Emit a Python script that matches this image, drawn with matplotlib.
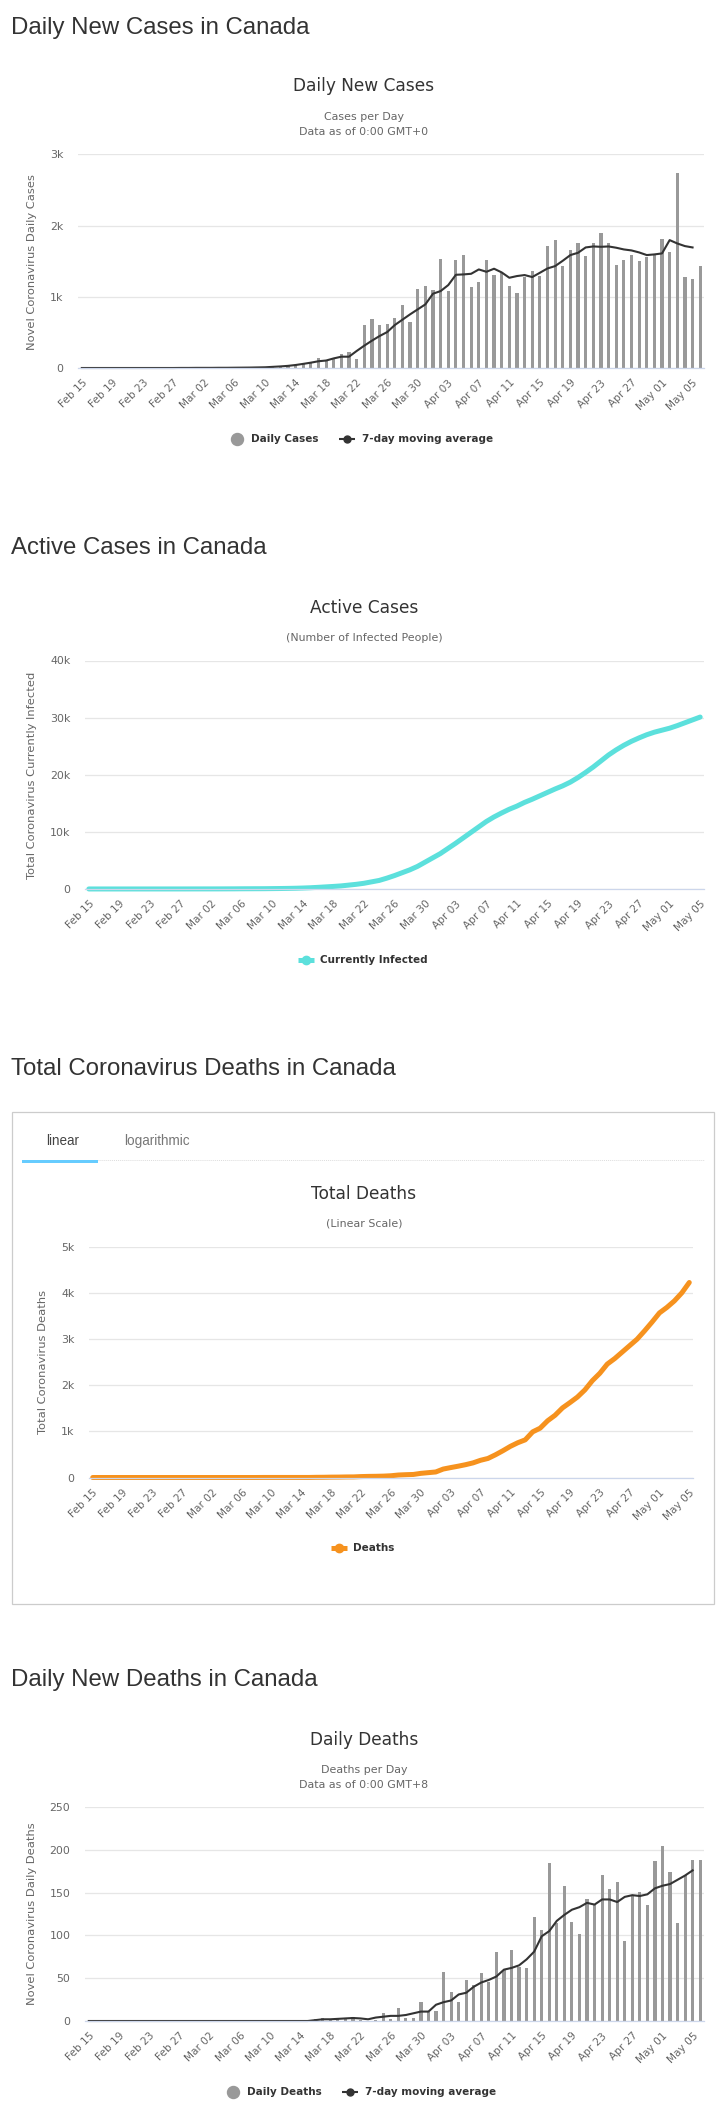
import matplotlib
matplotlib.use("Agg")
import matplotlib.pyplot as plt
from matplotlib.lines import Line2D
from matplotlib.patches import Rectangle

W, H = 719, 2114
PX = 0.72  # px -> pt at dpi 100

days_long = (["Feb %02d" % d for d in range(15, 30)]
             + ["Mar %02d" % d for d in range(1, 32)]
             + ["Apr %02d" % d for d in range(1, 31)]
             + ["May %02d" % d for d in range(1, 7)])
days_short = days_long[:-1]

daily_cases = [0, 0, 0, 0, 0, 0, 1, 0, 0, 0, 0, 0, 1, 1, 3,
               3, 3, 3, 4, 3, 5, 5, 6, 8, 10, 18, 25, 30, 40, 55, 70, 135, 100, 120, 197, 225, 126, 604, 688, 604,
               618, 702, 885, 646, 1109, 1151,
               1095, 1530, 1081, 1516, 1587, 1137, 1207, 1516, 1306, 1334, 1151, 1053, 1278, 1362, 1292,
               1713, 1797, 1432, 1657, 1755, 1572, 1755, 1895, 1755, 1446, 1516, 1587, 1502, 1558, 1600,
               1811, 1629, 2738, 1278, 1250, 1432]
cases_ma = [0, 0, 0, 0, 0, 0, 0, 0, 0, 0, 0, 0, 0, 1, 1,
            2, 2, 2, 3, 3, 4, 5, 6, 8, 10, 16, 22, 30, 42, 58, 75, 95, 105, 135, 159, 159, 239, 314, 384, 449,
            505, 604, 679, 754, 824, 894,
            1044, 1081, 1165, 1310, 1315, 1324, 1385, 1352, 1395, 1343, 1268, 1292, 1306, 1278, 1338,
            1399, 1432, 1507, 1587, 1619, 1694, 1708, 1703, 1708, 1690, 1666, 1652, 1624, 1587, 1596,
            1610, 1797, 1750, 1713, 1694, None]

active_cases = [7, 7, 7, 7, 7, 7, 8, 8, 8, 9, 9, 10, 11, 13, 15,
                17, 18, 20, 25, 30, 40, 45, 50, 55, 70, 85, 105, 130, 170, 220, 290, 370, 450, 540, 680, 820, 1000,
                1250, 1500, 1900, 2350, 2850, 3350, 3950, 4700, 5450,
                6200, 7100, 8000, 8950, 9900, 10850, 11800, 12600, 13300, 13950, 14500, 15150, 15700, 16300, 16900,
                17500, 18050, 18700, 19500, 20400, 21350, 22400, 23450, 24350, 25150, 25850, 26450, 27000, 27450,
                27800, 28150, 28600, 29100, 29600, 30100]

total_deaths = [0] * 23 + [1, 1, 1, 1, 1, 1, 1, 4, 5, 8, 9, 12, 13, 20, 24, 26, 30, 38, 54, 61, 66, 90, 105,
                           120, 183, 215, 245, 278, 317, 373, 413, 492, 580, 675, 754, 817, 990, 1070,
                           1230, 1350, 1510, 1625, 1745, 1900, 2100, 2260, 2460, 2580, 2720, 2860, 3000, 3180, 3370,
                           3570, 3690, 3830, 4005, 4230]

daily_deaths = [0] * 30 + [2, 3, 1, 2, 2, 5, 1, 0, 1, 9, 2, 15, 3, 4, 22, 11,
                           12, 57, 34, 22, 48, 42, 56, 45, 81, 60, 83, 63, 62, 122, 106,
                           184, 114, 158, 116, 102, 143, 136, 171, 154, 162, 94, 147, 151, 136, 187,
                           205, 174, 115, 170, 188, 188]
deaths_ma = [0] * 30 + [1, 2, 2, 2.5, 3, 3.5, 3, 2, 4, 5, 6, 6, 7, 9, 11, 11,
                        19, 22, 24, 31, 33, 40, 45, 48, 52, 60, 62, 65, 72, 81, 99,
                        105, 117, 124, 130, 133, 138, 136, 142, 142, 139, 145, 147, 146, 148, 155,
                        158, 160, 165, 170, 176, None]

GRID = "#e6e6e6"
BASE = "#ccd6eb"
TEXT = "#666666"
DARK = "#333333"
BAR = "#999999"
LINE = "#333333"
CYAN = "#5ce0dc"
ORANGE = "#f6921e"

fig = plt.figure(figsize=(W / 100, H / 100), dpi=100)


def put(x, y, s, size, **kw):
    kw.setdefault("color", DARK)
    kw.setdefault("family", "DejaVu Sans")
    kw.setdefault("va", "center")
    return fig.text(x / W, 1 - y / H, s, fontsize=size * PX, **kw)


def page_title(y, s):
    put(11, y, s, 24, family="Liberation Sans")


def make_axes(left, right, top, bottom, days, ymax, yticks, ylabels):
    ax = fig.add_axes([left / W, 1 - bottom / H, (right - left) / W, (bottom - top) / H])
    ax.set_xlim(-0.5, len(days) - 0.5)
    ax.set_ylim(0, ymax)
    ax.set_xticks(range(0, len(days), 4))
    ax.set_xticklabels(days[::4], rotation=45, ha="right", rotation_mode="anchor",
                       fontsize=10.5 * PX, color=TEXT, family="DejaVu Sans")
    ax.set_yticks(yticks)
    ax.set_yticklabels(ylabels, fontsize=11 * PX, color=TEXT, family="DejaVu Sans")
    ax.tick_params(axis="x", length=0, pad=7)
    ax.tick_params(axis="y", length=0, pad=10.5)
    ax.grid(axis="y", color=GRID, lw=0.9)
    ax.set_axisbelow(True)
    for s in ["top", "left", "right"]:
        ax.spines[s].set_visible(False)
    ax.spines["bottom"].set_color(BASE)
    ax.spines["bottom"].set_linewidth(0.9)
    return ax


def legend_dot(x, y, s, x_text):
    fig.add_artist(Line2D([x / W], [1 - y / H], ls="none", marker="o", ms=12 * PX, color=BAR))
    put(x_text, y, s, 10.4, weight="bold")


def legend_line(x0, x1, y, s, x_text, color, lw, ms):
    fig.add_artist(Line2D([x0 / W, x1 / W], [1 - y / H] * 2, color=color, lw=lw, solid_capstyle="butt"))
    fig.add_artist(Line2D([(x0 + x1) / 2 / W], [1 - y / H], ls="none", marker="o", ms=ms, color=color))
    put(x_text, y, s, 10.4, weight="bold")


# Daily new cases
page_title(28, "Daily New Cases in Canada")
put(364, 86, "Daily New Cases", 17, ha="center")
put(364, 117, "Cases per Day", 11, ha="center", color=TEXT)
put(364, 132, "Data as of 0:00 GMT+0", 11, ha="center", color=TEXT)
ax = make_axes(78, 704, 154.5, 368, days_long, 3000, [0, 1000, 2000, 3000], ["0", "1k", "2k", "3k"])
ax.bar(range(len(daily_cases)), daily_cases, width=0.42, color=BAR)
ax.plot(range(len(cases_ma)), cases_ma, color=LINE, lw=1.5, clip_on=False)
put(32, 262, "Novel Coronavirus Daily Cases", 11.5, rotation=90, ha="center", color=TEXT)
legend_dot(237, 439, "Daily Cases", 251)
legend_line(339, 355, 439, "7-day moving average", 362, LINE, 1.5, 5)

# Active cases
page_title(548, "Active Cases in Canada")
put(364, 608, "Active Cases", 17, ha="center")
put(364, 638, "(Number of Infected People)", 11, ha="center", color=TEXT)
ax = make_axes(85, 704, 660.5, 889, days_short, 40000, [0, 10000, 20000, 30000, 40000],
               ["0", "10k", "20k", "30k", "40k"])
ax.plot(range(len(active_cases)), active_cases, color=CYAN, lw=3.6, clip_on=False, solid_capstyle="round")
put(32, 775, "Total Coronavirus Currently Infected", 11.5, rotation=90, ha="center", color=TEXT)
legend_line(298, 314, 960, "Currently Infected", 320, CYAN, 3.6, 6)

# Total deaths, inside its tab box
page_title(1069, "Total Coronavirus Deaths in Canada")
fig.add_artist(Rectangle((11.5 / W, 1 - 1604 / H), 702.5 / W, 492 / H, transform=fig.transFigure,
                         fill=False, ec="#cccccc", lw=0.9))
fig.add_artist(Line2D([98 / W, 704 / W], [1 - 1159.5 / H] * 2, color="#dddddd", lw=0.7, ls=(0, (1, 1))))
fig.add_artist(Rectangle((22 / W, 1 - 1163 / H), 76 / W, 3 / H, transform=fig.transFigure, fc="#66ccff", ec="none"))
put(62.5, 1141, "linear", 13.5, ha="center", color="#444444", family="Liberation Sans")
put(157, 1141, "logarithmic", 13.5, ha="center", color="#777777", family="Liberation Sans")
put(364, 1194, "Total Deaths", 17, ha="center")
put(364, 1224, "(Linear Scale)", 11, ha="center", color=TEXT)
ax = make_axes(89, 693, 1247, 1477.5, days_short, 5000, [0, 1000, 2000, 3000, 4000, 5000],
               ["0", "1k", "2k", "3k", "4k", "5k"])
ax.plot(range(len(total_deaths)), total_deaths, color=ORANGE, lw=3.6, clip_on=False, solid_capstyle="round")
put(43.5, 1362, "Total Coronavirus Deaths", 11.5, rotation=90, ha="center", color=TEXT)
legend_line(331, 347, 1548, "Deaths", 353, ORANGE, 3.6, 6)

# Daily new deaths
page_title(1680, "Daily New Deaths in Canada")
put(364, 1740, "Daily Deaths", 17, ha="center")
put(364, 1770, "Deaths per Day", 11, ha="center", color=TEXT)
put(364, 1785, "Data as of 0:00 GMT+8", 11, ha="center", color=TEXT)
ax = make_axes(85, 704, 1807, 2021, days_long, 250, [0, 50, 100, 150, 200, 250],
               ["0", "50", "100", "150", "200", "250"])
ax.bar(range(len(daily_deaths)), daily_deaths, width=0.42, color=BAR)
ax.plot(range(len(deaths_ma)), deaths_ma, color=LINE, lw=1.5, clip_on=False)
put(32, 1914, "Novel Coronavirus Daily Deaths", 11.5, rotation=90, ha="center", color=TEXT)
legend_dot(233, 2092, "Daily Deaths", 247)
legend_line(342, 358, 2092, "7-day moving average", 365, LINE, 1.5, 5)

fig.savefig("out.png", dpi=100, facecolor="white")
